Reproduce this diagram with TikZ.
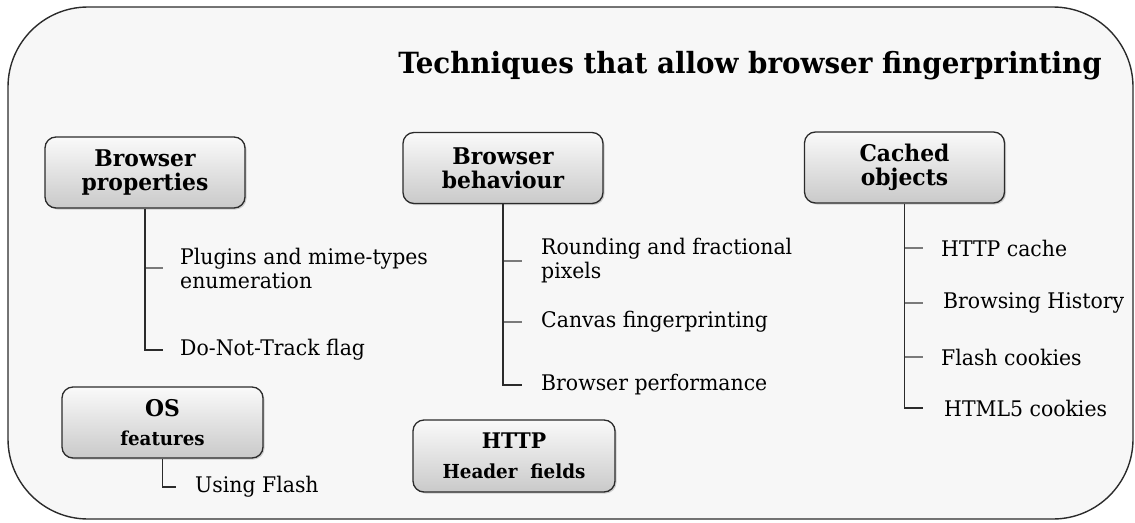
\documentclass[tikz,border=0pt]{standalone}
\usepackage{fontspec}
\setmainfont{DejaVu Serif}[FakeStretch=0.95]
\usetikzlibrary{shadows}
\definecolor{panel}{HTML}{F7F7F7}
\definecolor{edge}{HTML}{2B2B2B}
\definecolor{tickgrey}{HTML}{7A7A7A}
\tikzset{
  frame/.style={draw=edge, line width=1.4pt, fill=panel, rounded corners=80pt},
  cat/.style={draw=edge, line width=1.3pt, rounded corners=11pt,
    top color=gray!4, bottom color=gray!42, minimum width=200pt,
    minimum height=71pt, align=center, inner sep=0pt,
    font=\fontsize{23}{24}\selectfont\bfseries,
    drop shadow={opacity=0.35, shadow xshift=1.5pt, shadow yshift=-1.5pt}},
  item/.style={anchor=west, inner sep=0pt, align=left,
    font=\fontsize{21.5}{24}\selectfont},
  trunk/.style={draw=edge, line width=1.3pt},
  tick/.style={draw=tickgrey, line width=2pt},
}
\begin{document}
\begin{tikzpicture}[x=1pt,y=-1pt]
\useasboundingbox (0,0) rectangle (1135,522);
\path[frame] (8,7) rectangle (1133,519);

\node[anchor=base, inner sep=0pt, font=\fontsize{29.2}{32}\selectfont\bfseries]
  (title) at (750,73) {Techniques that allow browser fingerprinting};

% category boxes
\node[cat] (bp) at (145,172.5) {Browser\\properties};
\node[cat] (bb) at (503,168) {Browser\\behaviour};
\node[cat] (co) at (904.5,167.5) {Cached\\objects};
\node[cat, minimum width=201pt] (os) at (162.5,422.5)
  {OS\\[5pt]{\fontsize{19.2}{24}\selectfont features}};
\node[cat, minimum width=202pt, minimum height=72pt,
  font=\fontsize{21.5}{24}\selectfont\bfseries] (http) at (514,456)
  {HTTP\\[6pt]{\fontsize{19.3}{24}\selectfont Header\ \ fields}};

% technique lists
\node[item] (p1) at (180,268) {Plugins and mime-types\\enumeration};
\node[item] (p2) at (180,350) {Do-Not-Track flag};

\node[item] (b1) at (541,261) {Rounding and fractional\\pixels};
\node[item] (b2) at (541,322) {Canvas fingerprinting};
\node[item] (b3) at (541,385) {Browser performance};

\node[item] (c1) at (941,248) {HTTP cache};
\node[item] (c2) at (943,303) {Browsing History};
\node[item] (c3) at (941,357) {Flash cookies};
\node[item] (c4) at (944,408) {HTML5 cookies};

\node[item] (o1) at (195,487) {Using Flash};

% tree connectors
\draw[tick] (bp.south |- p1.west) -- ([xshift=-17pt]p1.west);
\draw[trunk] (bp.south) -- (bp.south |- p2.west) -- ([xshift=-17pt]p2.west);

\draw[tick] (bb.south |- b1.west) -- ([xshift=-19pt]b1.west);
\draw[tick] (bb.south |- b2.west) -- ([xshift=-19pt]b2.west);
\draw[trunk] (bb.south) -- (bb.south |- b3.west) -- ([xshift=-19pt]b3.west);

\draw[tick] (co.south |- c1.west) -- ([xshift=-18pt]c1.west);
\draw[tick] (co.south |- c2.west) -- ([xshift=-20pt]c2.west);
\draw[tick] (co.south |- c3.west) -- ([xshift=-18pt]c3.west);
\draw[trunk] (co.south) -- (co.south |- c4.west) -- ([xshift=-21pt]c4.west);

\draw[trunk] (os.south) -- (os.south |- o1.west) -- ([xshift=-19pt]o1.west);
\end{tikzpicture}
\end{document}
